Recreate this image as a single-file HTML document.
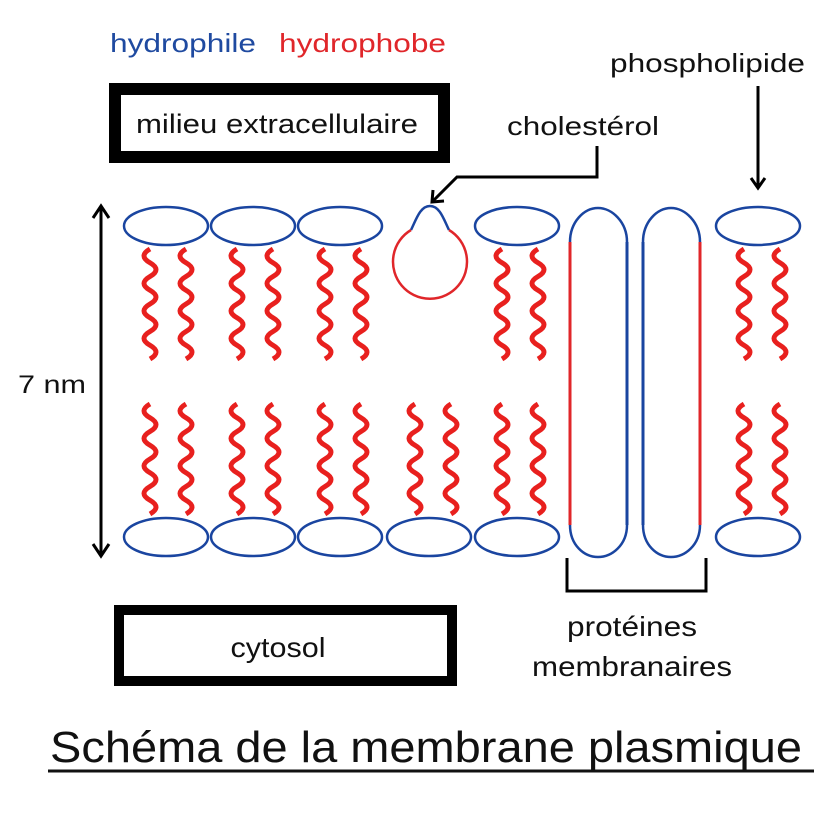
<!DOCTYPE html>
<html><head><meta charset="utf-8"><style>
html,body{margin:0;padding:0;background:#fff}
svg{display:block}
text{font-family:"Liberation Sans",sans-serif}
</style></head><body>
<svg width="828" height="828" viewBox="0 0 828 828" xmlns="http://www.w3.org/2000/svg">
<defs>
<path id="w" d="M0,0 q-12,6.9 0,13.75 t0,13.75 t0,13.75 t0,13.75 t0,13.75 t0,13.75 t0,13.75 t0,13.75" fill="none" stroke="#e8201e" stroke-width="5"/>
</defs>
<rect width="828" height="828" fill="#fff"/>
<text x="110" y="52" font-size="26" fill="#1f4aa0" textLength="146" lengthAdjust="spacingAndGlyphs">hydrophile</text>
<text x="279" y="52" font-size="26" fill="#e0262a" textLength="167" lengthAdjust="spacingAndGlyphs">hydrophobe</text>
<text x="610" y="72" font-size="26" fill="#111" textLength="195" lengthAdjust="spacingAndGlyphs">phospholipide</text>
<text x="507" y="135" font-size="26" fill="#111" textLength="152" lengthAdjust="spacingAndGlyphs">cholestérol</text>
<rect x="115" y="89" width="329" height="68" fill="none" stroke="#000" stroke-width="12"/>
<text x="277" y="133" font-size="27" text-anchor="middle" fill="#111" textLength="282" lengthAdjust="spacingAndGlyphs">milieu extracellulaire</text>
<rect x="119" y="610" width="333" height="71" fill="none" stroke="#000" stroke-width="10"/>
<text x="278" y="657" font-size="28" text-anchor="middle" fill="#111" textLength="95" lengthAdjust="spacingAndGlyphs">cytosol</text>
<text x="632" y="636" font-size="28" text-anchor="middle" fill="#111" textLength="130" lengthAdjust="spacingAndGlyphs">protéines</text>
<text x="632" y="676" font-size="28" text-anchor="middle" fill="#111" textLength="200" lengthAdjust="spacingAndGlyphs">membranaires</text>
<text x="18" y="393" font-size="25" fill="#111" textLength="68" lengthAdjust="spacingAndGlyphs">7 nm</text>
<text x="50" y="762" font-size="44" fill="#111" textLength="752" lengthAdjust="spacingAndGlyphs">Schéma de la membrane plasmique</text>
<line x1="48" y1="771" x2="814" y2="771" stroke="#111" stroke-width="3"/>
<g stroke="#000" stroke-width="3" fill="none">
<line x1="101" y1="208" x2="101" y2="554"/>
<polyline points="93,218 101,206 109,218"/>
<polyline points="93,544 101,556 109,544"/>
<line x1="758" y1="86" x2="758" y2="187"/>
<polyline points="751,178 758,188 765,178"/>
<polyline points="597,146 597,177 457,177 433,201"/>
<polyline points="433,190 432,202 444,201"/>
<polyline points="567,558 567,591 706,591 706,558"/>
</g>
<g fill="none" stroke="#1a45a0" stroke-width="2.5">
<ellipse cx="166" cy="226" rx="42" ry="19"/>
<ellipse cx="253" cy="226" rx="42" ry="19"/>
<ellipse cx="340" cy="226" rx="42" ry="19"/>
<ellipse cx="517" cy="226" rx="42" ry="19"/>
<ellipse cx="758" cy="226" rx="42" ry="19"/>
<ellipse cx="166" cy="537" rx="42" ry="19"/>
<ellipse cx="253" cy="537" rx="42" ry="19"/>
<ellipse cx="340" cy="537" rx="42" ry="19"/>
<ellipse cx="429" cy="537" rx="42" ry="19"/>
<ellipse cx="517" cy="537" rx="42" ry="19"/>
<ellipse cx="758" cy="537" rx="42" ry="19"/>
<path d="M411,230 C416,220 420,206 430,206 C440,206 444,220 449,230"/>
<path d="M570,242 C570,222 584,208 598,208 C612,208 627,222 627,242"/>
<path d="M570,525 C570,545 584,557 598,557 C612,557 627,545 627,525"/>
<path d="M643,242 C643,222 657,208 671,208 C685,208 700,222 700,242"/>
<path d="M643,525 C643,545 657,557 671,557 C685,557 700,545 700,525"/>
<line x1="627" y1="242" x2="627" y2="525" stroke-width="3"/>
<line x1="643" y1="242" x2="643" y2="525" stroke-width="3"/>
</g>
<g stroke="#e0262a" stroke-width="3" fill="none">
<line x1="570" y1="242" x2="570" y2="525"/>
<line x1="700" y1="242" x2="700" y2="525"/>
<path d="M411,230 A37,37 0 1 0 449,230" stroke-width="2.5"/>
</g>
<g>
<use href="#w" x="150" y="249"/><use href="#w" x="186" y="249"/>
<use href="#w" x="237" y="249"/><use href="#w" x="273" y="249"/>
<use href="#w" x="325" y="249"/><use href="#w" x="361" y="249"/>
<use href="#w" x="502" y="249"/><use href="#w" x="538" y="249"/>
<use href="#w" x="744" y="249"/><use href="#w" x="780" y="249"/>
</g>
<g>
<use href="#w" x="150" y="404"/><use href="#w" x="186" y="404"/>
<use href="#w" x="237" y="404"/><use href="#w" x="273" y="404"/>
<use href="#w" x="325" y="404"/><use href="#w" x="361" y="404"/>
<use href="#w" x="415" y="404"/><use href="#w" x="451" y="404"/>
<use href="#w" x="502" y="404"/><use href="#w" x="538" y="404"/>
<use href="#w" x="744" y="404"/><use href="#w" x="780" y="404"/>
</g>
</svg>
</body></html>
